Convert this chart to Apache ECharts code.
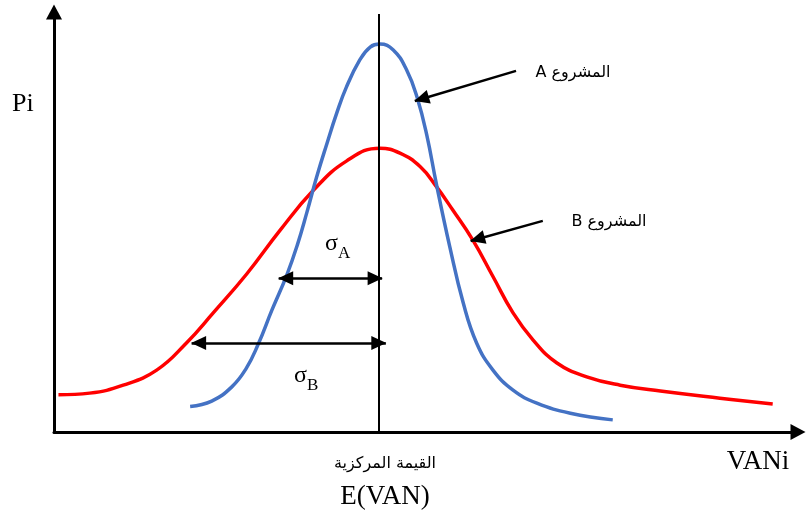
<!DOCTYPE html>
<html>
<head>
<meta charset="utf-8">
<script src="https://cdn.jsdelivr.net/npm/echarts@6/dist/echarts.min.js"></script>
<style>
  html, body { margin: 0; padding: 0; background: #fff; }
  #chart { width: 806px; height: 514px; }
</style>
</head>
<body>
<div id="chart"></div>
<script>
// Project A: narrow distribution around the expected value
const vanA = [18.3, 21.2, 23.9, 25.8, 27.4, 29.3, 31.3, 32.7, 34.0, 35.3, 36.7, 38.0, 39.3, 41.1, 42.5, 43.8, 45.6, 47.4, 48.8, 50.1, 51.4, 53.2, 55.0, 56.8, 59.0, 61.7, 64.9, 69.4, 75.1];
const piA  = [6.1, 7.4, 10.8, 15.1, 20.8, 29.2, 37.6, 44.7, 52.6, 61.0, 69.1, 76.3, 82.5, 89.0, 92.1, 92.8, 91.4, 86.6, 80.1, 71.1, 59.3, 44.3, 30.9, 21.3, 14.8, 10.0, 6.9, 4.5, 2.9];

// Project B: wider distribution around the same expected value
const vanB = [0.6, 4.8, 9.3, 13.8, 17.8, 21.4, 25.9, 30.4, 34.8, 39.3, 43.8, 46.5, 49.2, 51.4, 53.6, 56.3, 59.0, 61.7, 64.4, 67.6, 71.6, 76.1, 81.5, 89.5, 96.6];
const piB  = [8.9, 9.3, 11.2, 14.8, 21.3, 28.5, 37.8, 48.3, 57.7, 64.8, 67.9, 66.7, 63.5, 58.7, 53.1, 45.9, 37.2, 28.5, 22.0, 16.5, 13.2, 11.2, 9.8, 8.1, 6.7];

// Expected value and the spread of each project
const expectedVan = 43.7;
const sigmaA = { from: 30.2, to: 44.1, level: 36.8 };
const sigmaB = { from: 18.5, to: 44.6, level: 21.3 };

// Callout arrows pointing at each curve: [start, tip]
const calloutA = [[62.1, 86.4], [48.5, 79.2]];
const calloutB = [[65.7, 50.5], [56.0, 45.7]];

const pairs = (xs, ys) => xs.map((x, i) => [x, ys[i]]);

const serif = '"Liberation Serif", "DejaVu Serif", serif';
const arabic = '"DejaVu Sans", "Noto Sans", sans-serif';

const chart = echarts.init(document.getElementById('chart'), null, { renderer: 'canvas' });

const axisCommon = {
  type: 'value',
  min: 0,
  max: 100,
  axisTick: { show: false },
  axisLabel: { show: false },
  splitLine: { show: false }
};

const sigmaRich = {
  s: { font: '24px ' + serif, fill: '#000', verticalAlign: 'bottom' },
  sub: { font: '17px ' + serif, fill: '#000', padding: [0, 0, -6, 0], verticalAlign: 'bottom' }
};

chart.setOption({
  animation: false,
  backgroundColor: '#ffffff',
  grid: { left: 54, right: 8, top: 14, bottom: 82 },
  xAxis: Object.assign({}, axisCommon, {
    axisLine: {
      show: true,
      symbol: ['none', 'triangle'],
      symbolSize: [16, 15],
      lineStyle: { color: '#000', width: 3 }
    }
  }),
  yAxis: Object.assign({}, axisCommon, {
    axisLine: {
      show: true,
      symbol: ['none', 'triangle'],
      symbolSize: [16, 15],
      symbolOffset: [0, 2],
      lineStyle: { color: '#000', width: 3 }
    }
  }),
  series: [
    {
      name: 'B',
      type: 'line',
      data: pairs(vanB, piB),
      smooth: 0.45,
      symbol: 'none',
      lineStyle: { color: '#ff0000', width: 3.5 },
      z: 3,
      markLine: {
        silent: true,
        symbol: ['none', 'none'],
        label: { show: false },
        lineStyle: { color: '#000', width: 2, type: 'solid' },
        data: [{ xAxis: expectedVan }]
      }
    },
    {
      name: 'A',
      type: 'line',
      data: pairs(vanA, piA),
      smooth: 0.45,
      symbol: 'none',
      lineStyle: { color: '#4472c4', width: 3.5 },
      z: 4,
      markLine: {
        silent: true,
        symbol: ['triangle', 'triangle'],
        symbolSize: [14, 15],
        symbolOffset: [[0, 7], [0, 7]],
        label: { show: false },
        lineStyle: { color: '#000', width: 2.5, type: 'solid' },
        data: [
          [{ coord: [sigmaA.from, sigmaA.level] }, { coord: [sigmaA.to, sigmaA.level] }],
          [{ coord: [sigmaB.from, sigmaB.level] }, { coord: [sigmaB.to, sigmaB.level] }]
        ]
      }
    },
    {
      name: 'callouts',
      type: 'line',
      data: [],
      markLine: {
        silent: true,
        symbol: ['none', 'triangle'],
        symbolSize: [14, 15],
        symbolOffset: [[0, 0], [0, 7]],
        label: { show: false },
        lineStyle: { color: '#000', width: 2.5, type: 'solid' },
        data: [
          [{ coord: calloutA[0] }, { coord: calloutA[1] }],
          [{ coord: calloutB[0] }, { coord: calloutB[1] }]
        ]
      }
    }
  ],
  graphic: [
    { type: 'text', x: 12, y: 104, style: { text: 'Pi', font: '26px ' + serif, fill: '#000', align: 'left', verticalAlign: 'middle' } },
    { type: 'text', x: 758, y: 462, style: { text: 'VANi', font: '27px ' + serif, fill: '#000', align: 'center', verticalAlign: 'middle' } },
    { type: 'text', x: 385, y: 464, style: { text: 'القيمة المركزية', font: '16px ' + arabic, fill: '#000', align: 'center', verticalAlign: 'middle' } },
    { type: 'text', x: 385, y: 497, style: { text: 'E(VAN)', font: '27px ' + serif, fill: '#000', align: 'center', verticalAlign: 'middle' } },
    { type: 'text', x: 573, y: 73, style: { text: 'A المشروع', font: '16px ' + arabic, fill: '#000', align: 'center', verticalAlign: 'middle' } },
    { type: 'text', x: 609, y: 222, style: { text: 'B المشروع', font: '16px ' + arabic, fill: '#000', align: 'center', verticalAlign: 'middle' } },
    { type: 'text', x: 325, y: 232, style: { text: '{s|σ}{sub|A}', rich: sigmaRich } },
    { type: 'text', x: 294, y: 364, style: { text: '{s|σ}{sub|B}', rich: sigmaRich } }
  ]
});
</script>
</body>
</html>
